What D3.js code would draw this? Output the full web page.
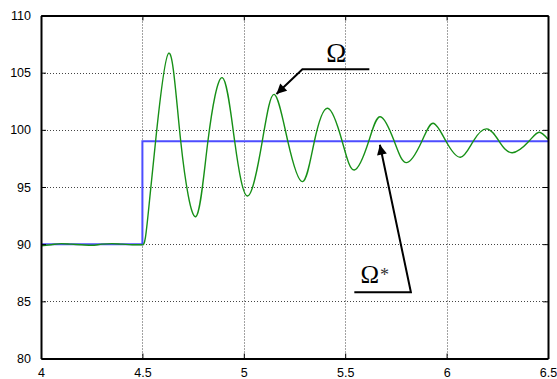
<!DOCTYPE html>
<html><head><meta charset="utf-8">
<script src="https://cdn.jsdelivr.net/npm/d3@7"></script>
<style>body{margin:0;background:#fff}svg{display:block}</style>
</head><body>
<svg id="c" width="557" height="379"></svg>
<script>
const xTicks = [4, 4.5, 5, 5.5, 6, 6.5];
const xTickLabels = ["4", "4.5", "5", "5.5", "6", "6.5"];
const yTicks = [80, 85, 90, 95, 100, 105, 110];
const yTickLabels = ["80", "85", "90", "95", "100", "105", "110"];

// reference Ω* (step)
const refX = [4.0, 4.5, 4.5, 6.5];
const refY = [90, 90, 99, 99];

// speed Ω (green) – before the step
const spdPreX = [4.0, 4.05, 4.1, 4.15, 4.2, 4.25, 4.3, 4.35, 4.4, 4.45, 4.5];
const spdPreY = [89.85, 89.95, 90.05, 90.0, 89.95, 89.9, 90.0, 90.05, 90.0, 89.95, 89.95];
// speed Ω (green) – after the step
const spdX = [4.5, 4.515, 4.535, 4.565, 4.63,
  4.689, 4.763, 4.823, 4.894, 4.955, 5.02, 5.091, 5.15, 5.217, 5.29, 5.348, 5.414, 5.485, 5.545,
  5.616, 5.673, 5.742, 5.803, 5.878, 5.934, 5.997, 6.068, 6.131, 6.198, 6.259, 6.324, 6.406, 6.456, 6.5];
const spdY = [89.95, 90.6, 93.8, 99, 106.7,
  99, 92.4, 99, 104.56, 99, 94.22, 99, 103.1, 99, 95.47, 99, 101.89, 99, 96.49,
  99, 101.15, 99, 97.13, 99, 100.57, 99, 97.6, 99, 100.08, 99, 98.0, 99, 99.79, 99.18];

const annOmega = {label: "Ω", sup: "", tx: 5.407, ty: 105.94, lx0: 5.619, lx1: 5.289, ly: 105.3, ax: 5.161, ay: 103.13};
const annOmegaStar = {label: "Ω", sup: "*", tx: 5.575, ty: 86.62, lx0: 5.545, lx1: 5.824, ly: 85.8, ax: 5.671, ay: 98.7};

const svg = d3.select("#c");
const L = 41, R = 548, T = 15.5, B = 358.5;
const x = d3.scaleLinear().domain([4, 6.5]).range([L, R]);
const y = d3.scaleLinear().domain([80, 110]).range([B, T]);

// grid
const g = svg.append("g");
g.selectAll(".gx").data(xTicks.slice(1, -1)).join("line")
  .attr("x1", d => Math.round(x(d)) + 0.5).attr("x2", d => Math.round(x(d)) + 0.5)
  .attr("y1", T).attr("y2", B)
  .attr("stroke", "#444").attr("stroke-width", 1).attr("stroke-dasharray", "1,2");
g.selectAll(".gy").data(yTicks.slice(1, -1)).join("line")
  .attr("y1", d => Math.round(y(d)) + 0.5).attr("y2", d => Math.round(y(d)) + 0.5)
  .attr("x1", L).attr("x2", R)
  .attr("stroke", "#444").attr("stroke-width", 1).attr("stroke-dasharray", "1,2");

// data lines
const refData = refX.map((d, i) => [d, refY[i]]);
const preData = spdPreX.map((d, i) => [d, spdPreY[i]]);
const spdData = spdX.map((d, i) => [d, spdY[i]]);
svg.append("path").datum(refData)
  .attr("d", d3.line().x(d => x(d[0])).y(d => y(d[1])))
  .attr("fill", "none").attr("stroke", "#4d4dff").attr("stroke-width", 2);
svg.append("path").datum(preData)
  .attr("d", d3.line().x(d => x(d[0])).y(d => y(d[1])).curve(d3.curveMonotoneX))
  .attr("fill", "none").attr("stroke", "#179017").attr("stroke-width", 1.4);
svg.append("path").datum(spdData)
  .attr("d", d3.line().x(d => x(d[0])).y(d => y(d[1])).curve(d3.curveNatural))
  .attr("fill", "none").attr("stroke", "#179017").attr("stroke-width", 1.4);

// axes (MATLAB style box with inward ticks)
const font = "'Liberation Sans', Arial, sans-serif";
const axB = d3.axisBottom(x).tickValues(xTicks).tickFormat((d, i) => xTickLabels[i]).tickSizeInner(-5).tickSizeOuter(0).tickPadding(10);
const axT = d3.axisTop(x).tickValues(xTicks).tickFormat("").tickSizeInner(-5).tickSizeOuter(0);
const axL = d3.axisLeft(y).tickValues(yTicks).tickFormat((d, i) => yTickLabels[i]).tickSizeInner(-5).tickSizeOuter(0).tickPadding(10);
const axR = d3.axisRight(y).tickValues(yTicks).tickFormat("").tickSizeInner(-5).tickSizeOuter(0);
function style(sel) {
  sel.selectAll("path").attr("stroke", "#000").attr("stroke-width", 2);
  sel.selectAll("line").attr("stroke", "#000").attr("stroke-width", 1);
  sel.selectAll("text").attr("fill", "#000").style("font-family", font).style("font-size", "12.5px");
}
svg.append("g").attr("transform", `translate(0,${B})`).call(axB).call(style);
svg.append("g").attr("transform", `translate(0,${T})`).call(axT).call(style);
svg.append("g").attr("transform", `translate(${L},0)`).call(axL).call(style);
svg.append("g").attr("transform", `translate(${R},0)`).call(axR).call(style);

// annotations
svg.append("defs").append("marker").attr("id", "ah")
  .attr("viewBox", "0 0 10 10").attr("refX", 10).attr("refY", 5)
  .attr("markerWidth", 11).attr("markerHeight", 10).attr("markerUnits", "userSpaceOnUse")
  .attr("orient", "auto")
  .append("path").attr("d", "M0,0 L10,5 L0,10 Z").attr("fill", "#000");

[annOmega, annOmegaStar].forEach(a => {
  svg.append("polyline")
    .attr("points", [[x(a.lx0), y(a.ly)], [x(a.lx1), y(a.ly)], [x(a.ax), y(a.ay)]].map(p => p.join(",")).join(" "))
    .attr("fill", "none").attr("stroke", "#000").attr("stroke-width", 2)
    .attr("marker-end", "url(#ah)");
  const t = svg.append("text").attr("x", x(a.tx)).attr("y", y(a.ty))
    .style("font-family", "'Liberation Serif', 'Times New Roman', serif")
    .style("font-size", a.sup ? "25px" : "27px")
    .attr("fill", "#000");
  t.append("tspan").text(a.label);
  if (a.sup) t.append("tspan").attr("dx", 1).attr("dy", -2).style("font-size", "18px").attr("fill", "#333").text(a.sup);
});
</script>
</body></html>
